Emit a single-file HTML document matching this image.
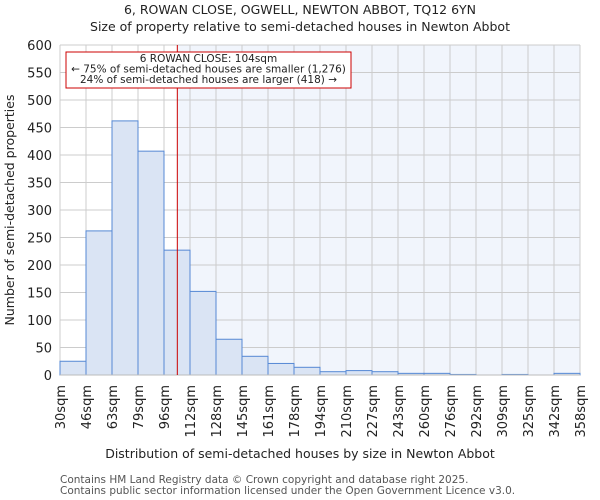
<!DOCTYPE html>
<html><head><meta charset="utf-8"><style>
body{margin:0;background:#fff;}
svg{display:block;font-family:"DejaVu Sans","Liberation Sans",sans-serif;}
</style></head><body>
<svg id="chart" width="600" height="500" viewBox="0 0 600 500">
<text x="300" y="14" text-anchor="middle" font-size="12.5" fill="#222">6, ROWAN CLOSE, OGWELL, NEWTON ABBOT, TQ12 6YN</text>
<text x="300" y="31" text-anchor="middle" font-size="12.5" fill="#222">Size of property relative to semi-detached houses in Newton Abbot</text>
<g id="plot"></g>
<text x="300" y="458" text-anchor="middle" font-size="12.5" fill="#222">Distribution of semi-detached houses by size in Newton Abbot</text>
<text transform="translate(14,210) rotate(-90)" text-anchor="middle" font-size="12.5" fill="#222">Number of semi-detached properties</text>
<text x="60" y="483" font-size="10.5" fill="#555">Contains HM Land Registry data © Crown copyright and database right 2025.</text>
<text x="60" y="494" font-size="10.5" fill="#555">Contains public sector information licensed under the Open Government Licence v3.0.</text>
</svg>
<script>
const binEdges=[30,46.4,62.8,79.2,95.6,112,128.4,144.8,161.2,177.6,194,210.4,226.8,243.2,259.6,276,292.4,308.8,325.2,341.6,358];
const tickLabels=["30sqm","46sqm","63sqm","79sqm","96sqm","112sqm","128sqm","145sqm","161sqm","178sqm","194sqm","210sqm","227sqm","243sqm","260sqm","276sqm","292sqm","309sqm","325sqm","342sqm","358sqm"];
const counts=[25,262,462,407,227,152,65,34,21,14,6,8,6,3,3,1,0,1,0,3];
const yTicks=[0,50,100,150,200,250,300,350,400,450,500,550,600];
const propertySize=104;
const NS="http://www.w3.org/2000/svg";
const L=60,R=580,T=45,B=375,xMin=30,xMax=358,yMax=600;
const xs=v=>L+(v-xMin)/(xMax-xMin)*(R-L);
const ys=v=>B-v/yMax*(B-T);
const g=document.getElementById('plot');
function mk(t,a){const e=document.createElementNS(NS,t);for(const k in a)e.setAttribute(k,a[k]);g.appendChild(e);return e;}
const bgL=mk('rect',{x:L,y:T,width:xs(propertySize)-L,height:B-T,fill:'#ffffff'});


const bgR=mk('rect',{x:xs(propertySize),y:T,width:R-xs(propertySize),height:B-T,fill:'#f1f5fc'});


yTicks.forEach(v=>{
 const ln=mk('line',{x1:L,x2:R,y1:ys(v),y2:ys(v),stroke:'#cccccc','stroke-width':1});
 
 
 const t=mk('text',{x:L-8,y:ys(v)+5,'text-anchor':'end','font-size':13,fill:'#222'});
 t.textContent=v;
 
 
});
binEdges.forEach((v,i)=>{
 const ln=mk('line',{x1:xs(v),x2:xs(v),y1:T,y2:B,stroke:'#cccccc','stroke-width':1});
 
 
 const t=mk('text',{transform:`translate(${xs(v)+5},${B+10}) rotate(-90)`,'text-anchor':'end','font-size':13,fill:'#222'});
 t.textContent=tickLabels[i];
 
 
});
counts.forEach((c,i)=>{
 if(c<=0)return;
 const r=mk('rect',{x:xs(binEdges[i]),y:ys(c),width:xs(binEdges[i+1])-xs(binEdges[i]),height:B-ys(c),fill:'#dae4f4',stroke:'#5588d4','stroke-width':1});
 
 
});
const ax=mk('line',{x1:L,x2:R,y1:B,y2:B,stroke:'#bbbbbb','stroke-width':1});


const mkr=mk('line',{x1:xs(propertySize),x2:xs(propertySize),y1:T,y2:B,stroke:'#cc0000','stroke-width':1});


const box=mk('rect',{x:66,y:52,width:285,height:36,fill:'#ffffff',stroke:'#cc0000','stroke-width':1});


["6 ROWAN CLOSE: 104sqm","← 75% of semi-detached houses are smaller (1,276)","24% of semi-detached houses are larger (418) →"].forEach((s,i)=>{
 const t=mk('text',{x:208.5,y:62+i*10.5,'text-anchor':'middle','font-size':10.5,fill:'#222'});
 t.textContent=s;
 
 
});
</script>
</body></html>
